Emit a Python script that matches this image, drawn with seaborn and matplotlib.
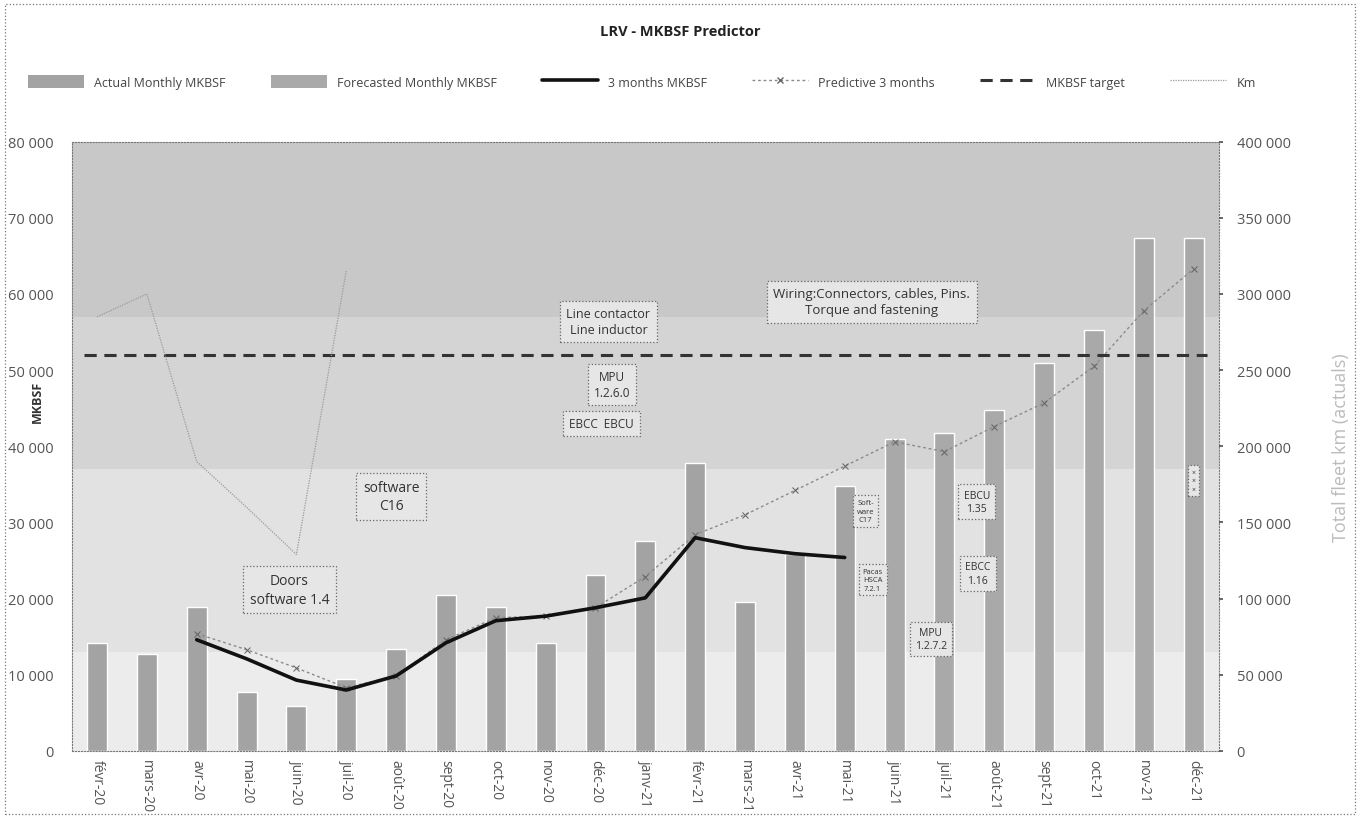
import numpy as np
import pandas as pd
import matplotlib
matplotlib.use('Agg')
import matplotlib.pyplot as plt
import matplotlib.ticker as mticker
from matplotlib.lines import Line2D
from matplotlib.patches import Patch, Rectangle
import seaborn as sns

# Data
months = ['févr-20', 'mars-20', 'avr-20', 'mai-20', 'juin-20', 'juil-20', 'août-20',
          'sept-20', 'oct-20', 'nov-20', 'déc-20', 'janv-21', 'févr-21', 'mars-21',
          'avr-21', 'mai-21', 'juin-21', 'juil-21', 'août-21', 'sept-21', 'oct-21',
          'nov-21', 'déc-21']
monthly_mkbsf = [14200, 12700, 18900, 7750, 5900, 9500, 13400, 20500, 18900, 14200,
                 23100, 27600, 37800, 19600, 25800, 34800, 40900, 41700, 44800, 50900,
                 55300, 67300, 67300]
n_actual = 16  # actual up to mai-21, forecast afterwards
three_month = [14600, 12100, 9300, 8000, 9850, 14200, 17100, 17700, 18800, 20100,
               28000, 26700, 25900, 25400]  # avr-20 .. mai-21
predictive = [15400, 13300, 10900, 8300, 9850, 14600, 17500, 17700, 18800, 22900,
              28400, 31000, 34200, 37400, 40600, 39300, 42600, 45700, 50500, 57800,
              63300]  # avr-20 .. déc-21
target = 52000
km = [285000, 300000, 190000, 160000, 129000, 315000]  # févr-20 .. juil-20

df = pd.DataFrame({'month': months, 'mkbsf': monthly_mkbsf,
                   'kind': ['Actual Monthly MKBSF'] * n_actual +
                           ['Forecasted Monthly MKBSF'] * (len(months) - n_actual)})

sns.set_theme(style='white')
plt.rcParams['font.family'] = ['Open Sans', 'DejaVu Sans']

fig = plt.figure(figsize=(13.6, 8.2), dpi=100)
ax = fig.add_axes([0.053, 0.083, 0.843, 0.743])

# background bands
for lo, hi, c in [(0, 13000, '#ececec'), (13000, 37000, '#e2e2e2'),
                  (37000, 57000, '#d4d4d4'), (57000, 80000, '#c8c8c8')]:
    ax.axhspan(lo, hi, color=c, zorder=0, lw=0)

sns.barplot(data=df, x='month', y='mkbsf', hue='kind', dodge=False, width=0.4,
            palette={'Actual Monthly MKBSF': '#a3a3a3',
                     'Forecasted Monthly MKBSF': '#a9a9a9'},
            ax=ax, legend=False, zorder=2)

idx3 = np.arange(2, 2 + len(three_month))
idxp = np.arange(2, 2 + len(predictive))
sns.lineplot(x=idxp, y=predictive, ax=ax, color='#8a8a8a', lw=1, linestyle=(0, (2, 2)),
             marker='x', markersize=4, markeredgecolor='#666666', zorder=3)
sns.lineplot(x=idx3, y=three_month, ax=ax, color='#111111', lw=2.6, zorder=4)
ax.axhline(target, xmin=0.01, xmax=0.99, color='#333333', lw=2.2,
           linestyle=(0, (4, 2.5)), zorder=3)

ax.set_xlim(-0.5, len(months) - 0.5)
ax.set_ylim(0, 80000)
ax.set_yticks(np.arange(0, 80001, 10000))
fmt = mticker.FuncFormatter(lambda v, p: f'{int(v):,}'.replace(',', ' '))
ax.yaxis.set_major_formatter(fmt)
ax.set_xlabel('')
ax.set_ylabel('MKBSF', fontsize=9, fontweight='bold', color='#333333')
ax.yaxis.set_label_coords(-0.025, 0.575)
ax.tick_params(axis='x', rotation=-90, labelsize=10, colors='#555555', length=0, pad=6)
ax.tick_params(axis='y', labelsize=10.5, colors='#555555', length=0, pad=13)
for lab in ax.get_xticklabels():
    lab.set_va('top')
for s in ax.spines.values():
    s.set_linestyle(':')
    s.set_color('#777777')
    s.set_linewidth(0.8)

ax2 = ax.twinx()
sns.lineplot(x=np.arange(len(km)), y=km, ax=ax2, color='#9a9a9a', lw=0.9,
             linestyle=(0, (1, 1)), zorder=3)
ax2.set_ylim(0, 400000)
ax2.set_yticks(np.arange(0, 400001, 50000))
ax2.yaxis.set_major_formatter(fmt)
ax2.tick_params(axis='y', labelsize=10.5, colors='#555555', length=3, pad=10)
ax2.set_ylabel('Total fleet km (actuals)', fontsize=13, color='#bbbbbb', labelpad=30,
               rotation=90)
for s in ax2.spines.values():
    s.set_visible(False)

# annotation boxes
box = dict(boxstyle='square,pad=0.5', fc='#e6e6e6', ec='#666666', ls=':', lw=0.9)
notes = [
    (3.86, 21150, 'Doors\nsoftware 1.4', 10),
    (5.9, 33400, 'software\nC16', 10),
    (10.26, 56400, 'Line contactor\nLine inductor', 9),
    (10.33, 48100, 'MPU\n1.2.6.0', 8.5),
    (10.12, 43000, 'EBCC  EBCU', 8.5),
    (15.54, 59000, 'Wiring:Connectors, cables, Pins.\nTorque and fastening', 9.5),
    (15.42, 31500, 'Soft-\nware\nC17', 5.5),
    (15.56, 22500, 'Pacas\nHSCA\n7.2.1', 5.5),
    (16.73, 14700, 'MPU\n1.2.7.2', 7.5),
    (17.65, 32700, 'EBCU\n1.35', 7.5),
    (17.67, 23300, 'EBCC\n1.16', 7.5),
    (21.99, 35500, '×\n×\n×', 5),
]
for x, y, t, fs in notes:
    ax.text(x, y, t, ha='center', va='center', fontsize=fs, color='#333333',
            bbox=box, zorder=6, linespacing=1.3)

fig.suptitle('LRV - MKBSF Predictor', y=0.97, fontsize=10.5, fontweight='bold',
             color='#222222')

handles = [Patch(fc='#a3a3a3', ec='none'), Patch(fc='#a9a9a9', ec='none'),
           Line2D([], [], color='#111111', lw=2.6),
           Line2D([], [], color='#8a8a8a', lw=1, ls=(0, (2, 2)), marker='x',
                  markersize=4, markeredgecolor='#666666'),
           Line2D([], [], color='#333333', lw=2.2, ls=(0, (4, 2.5))),
           Line2D([], [], color='#9a9a9a', lw=0.9, ls=(0, (1, 1)))]
labels = ['Actual Monthly MKBSF', 'Forecasted Monthly MKBSF', '3 months MKBSF',
          'Predictive 3 months', 'MKBSF target', 'Km']
fig.legend(handles, labels, loc='center', bbox_to_anchor=(0.472, 0.899), ncol=6,
           frameon=False, fontsize=9, handlelength=4.5, handleheight=1.2,
           columnspacing=3.6, handletextpad=0.8, labelcolor='#444444')

fig.patches.append(Rectangle((0.004, 0.006), 0.992, 0.988, transform=fig.transFigure,
                             fill=False, ls=':', ec='#777777', lw=0.9))

fig.savefig('out.png', dpi=100)
